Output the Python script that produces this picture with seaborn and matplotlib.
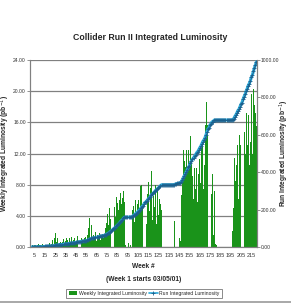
import numpy as np
import pandas as pd
import matplotlib
matplotlib.use("Agg")
import matplotlib.pyplot as plt
import seaborn as sns
from matplotlib.patches import Patch
from matplotlib.lines import Line2D


# 1 Data, weekly integrated luminosity in pb^-1, weeks 1..220

weekly_lumi = [
    # weeks 1-20
    0.0, 0.1, 0.2, 0.1, 0.3, 0.2, 0.0, 0.3, 0.4, 0.2,
    0.3, 0.1, 0.4, 0.3, 0.2, 0.5, 0.3, 0.4, 0.5, 0.2,
    # weeks 21-31
    0.4, 0.9, 0.3, 1.2, 1.8, 0.6, 1.1, 0.2, 0.5, 0.7, 0.3,
    # weeks 32-55
    0.6, 1.0, 0.4, 0.8, 1.2, 0.9, 0.3, 1.1, 0.7, 1.3, 0.5, 0.9,
    1.2, 0.8, 0.6, 1.4, 1.0, 0.7, 1.1, 0.9, 0.5, 1.2, 1.3, 0.8,
    # weeks 56-63
    1.6, 2.4, 3.7, 1.2, 2.8, 0.9, 1.5, 1.3,
    # weeks 64-73
    1.9, 0.8, 1.6, 1.2, 1.8, 0.9, 1.4, 1.7, 1.1, 1.6,
    # weeks 74-92
    2.4, 3.1, 4.2, 2.8, 5.0, 3.6, 4.5, 6.1, 5.2, 3.9,
    6.4, 5.7, 4.8, 6.0, 7.0, 5.5, 6.3, 7.2, 5.8,
    # weeks 93-99
    0.3, 0.0, 0.0, 0.5, 0.0, 0.2, 0.0,
    # weeks 100-113
    4.8, 5.3, 3.2, 6.0, 4.4, 5.5, 6.1, 4.9,
    7.8, 8.0, 5.2, 8.4, 9.1, 3.0,
    # weeks 114-128
    6.8, 8.4, 4.6, 7.6, 9.7, 3.5, 6.5, 5.2, 8.0, 2.9, 7.4, 4.1, 6.2, 5.5, 4.8,
    # weeks 129-146
    0.0, 0.0, 0.0, 0.0, 0.0, 0.0, 0.0, 0.0, 0.0, 0.0, 0.0,
    0.0, 3.3, 0.0, 3.7, 0.0, 1.2, 0.8,
    # weeks 147-179
    6.7, 8.5, 12.5, 11.0, 10.3,
    12.5, 9.8, 12.4, 10.1, 14.2, 11.0,
    9.1, 6.2, 10.1, 7.5,
    10.1, 5.8, 9.4, 11.3, 8.2,
    12.7, 13.1, 7.4, 10.5, 15.7, 18.6,
    15.7, 5.2, 16.2, 6.8, 9.4, 1.5, 7.2,
    # weeks 180-196
    0.4, 0.3, 0.0, 0.0, 0.0, 0.0, 0.0, 0.0, 0.0, 0.0, 0.0, 0.0, 0.0, 0.0, 0.0, 0.0, 0.0,
    # weeks 197-220
    2.0, 5.0, 11.4, 8.5, 10.5, 13.1, 6.2, 14.4, 13.1, 9.0,
    16.9, 14.8, 12.0, 17.2, 13.1, 16.9, 10.5, 13.5, 19.7, 12.0,
    20.3, 18.2, 17.2, 15.5,
]

weeks = list(range(1, len(weekly_lumi) + 1))
week_ticks = list(range(5, 220, 10))
left_ticks = [0, 4, 8, 12, 16, 20, 24]
right_ticks = [0, 200, 400, 600, 800, 1000]

# run integrated = running total of the weekly values
run_lumi = np.cumsum(weekly_lumi)

data = pd.DataFrame({"week": weeks, "weekly": weekly_lumi, "run": run_lumi})
data["pos"] = np.arange(len(data))


# 2 Style

sns.set_style("white")
plt.rcParams["font.family"] = ["Liberation Sans Narrow", "Liberation Sans", "DejaVu Sans"]

bar_green = "#1a931a"
line_blue = "#2aa8d8"
mark_blue = "#1b5f8c"
grid_gray = "#808080"


# 3 Plot

fig = plt.figure(figsize=(2.91, 3.05), dpi=100)
ax = fig.add_axes([0.103, 0.190, 0.780, 0.613])

sns.barplot(data=data, x="week", y="weekly", color=bar_green, width=0.9,
            edgecolor="none", saturation=1, ax=ax)
ax.set_ylim(0, 24)
ax.set_xlim(-0.5, len(weeks) - 0.5)
ax.set_yticks(left_ticks)
ax.set_yticklabels([f"{t:.2f}" for t in left_ticks])
ax.set_xticks([w - 1 for w in week_ticks])
ax.set_xticklabels([str(w) for w in week_ticks])
ax.set_xticks(np.arange(len(weeks)) - 0.5, minor=True)
ax.yaxis.grid(True, color=grid_gray, lw=0.9)
ax.set_axisbelow(True)

ax2 = ax.twinx()
sns.lineplot(data=data, x="pos", y="run", ax=ax2, color=line_blue, lw=2.2,
             marker="+", markersize=2.5, markeredgewidth=0.6,
             markeredgecolor=mark_blue)
ax2.set_ylim(0, 1000)
ax2.set_xlim(-0.5, len(weeks) - 0.5)
ax2.set_yticks(right_ticks)
ax2.set_yticklabels([f"{t:.2f}" for t in right_ticks])

for a in (ax, ax2):
    for s in a.spines.values():
        s.set_color(grid_gray)
        s.set_linewidth(0.8)
    a.spines["top"].set_visible(False)
    a.tick_params(axis="both", which="major", labelsize=4.0, length=2,
                  width=0.6, color=grid_gray, pad=2, labelcolor="#333333")
    a.tick_params(axis="y", which="major", labelsize=3.6, pad=1)
    a.tick_params(axis="x", which="minor", length=1.5, width=0.4, color=grid_gray)

ax.set_xlabel("Week #\n(Week 1 starts 03/05/01)", fontsize=4.8,
              fontweight="bold", labelpad=4, linespacing=2.2)
ax.set_ylabel("Weekly Integrated Luminosity (pb$^{-1}$)", fontsize=4.8,
              fontweight="bold", family=["Liberation Sans", "DejaVu Sans"])
ax.yaxis.set_label_coords(-0.078, 0.5)
ax2.set_ylabel("Run Integrated Luminosity (pb$^{-1}$)", fontsize=4.8,
               fontweight="bold", rotation=90,
               family=["Liberation Sans", "DejaVu Sans"])
ax2.yaxis.set_label_coords(1.092, 0.5)

fig.text(0.515, 0.878, "Collider Run II Integrated Luminosity", ha="center",
         va="center", fontsize=6.3, fontweight="bold")

handles = [
    Patch(facecolor=bar_green, edgecolor="none"),
    Line2D([0], [0], color=line_blue, lw=1.2, marker="+", markersize=3,
           markeredgecolor=mark_blue, markeredgewidth=0.6),
]
leg = fig.legend(handles, ["Weekly Integrated Luminosity", "Run Integrated Luminosity"],
                 loc="center", bbox_to_anchor=(0.495, 0.038), ncol=2, fontsize=3.7,
                 frameon=True, fancybox=False, handlelength=1.7, handletextpad=0.3,
                 columnspacing=0.4, borderpad=0.4)
leg.get_frame().set_edgecolor("#555555")
leg.get_frame().set_linewidth(0.6)

fig.add_artist(Line2D([0, 1], [0.01, 0.01], color="#999999", lw=1.2))

fig.savefig("out.png", dpi=100)
